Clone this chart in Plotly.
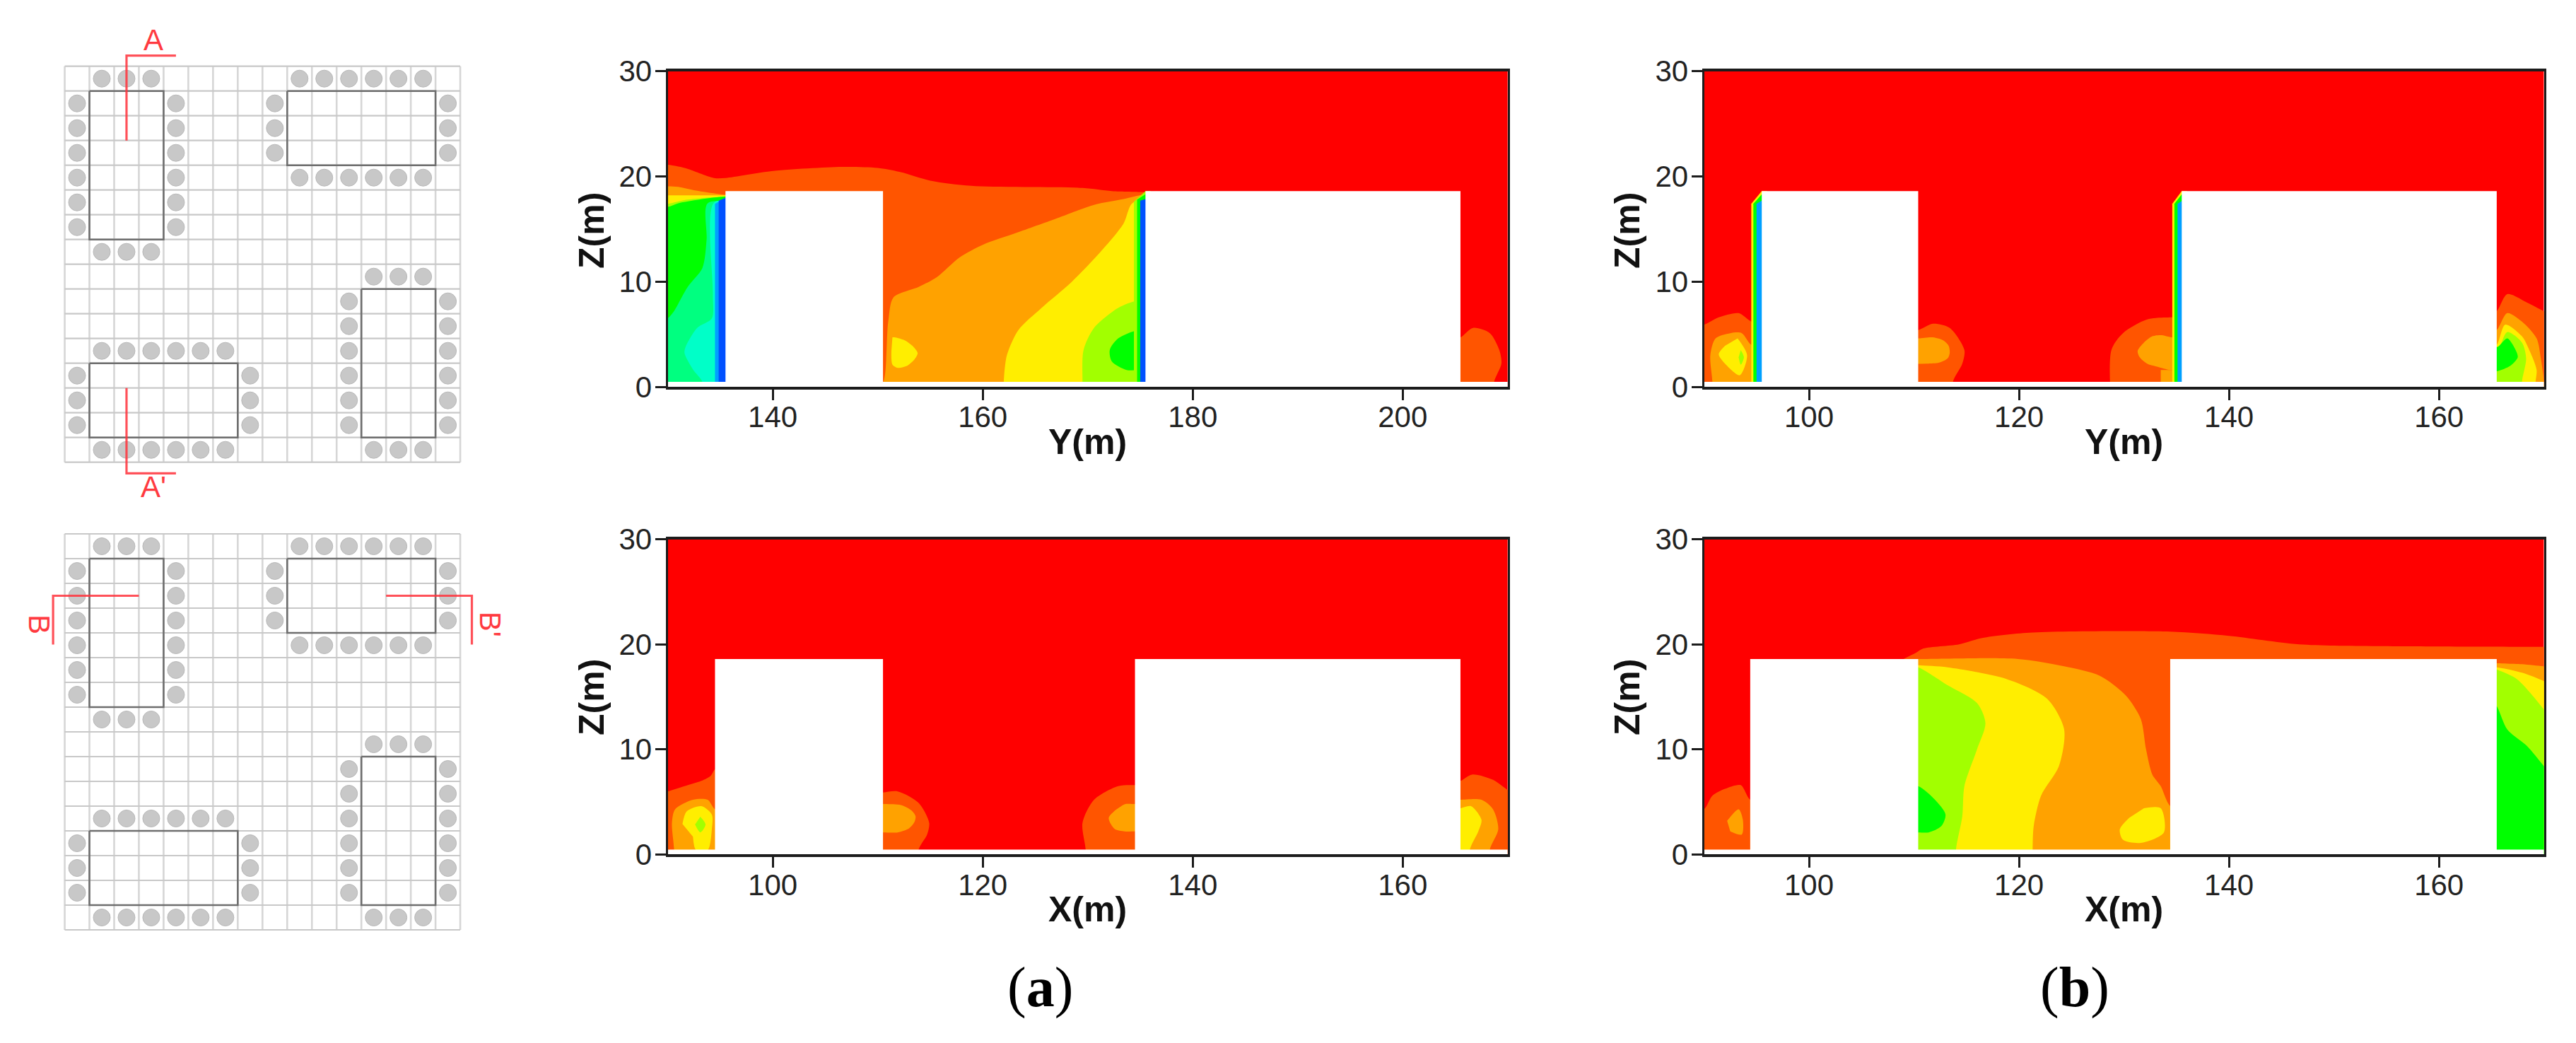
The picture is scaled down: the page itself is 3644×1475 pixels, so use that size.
#!/usr/bin/env python
import plotly.graph_objects as go

W, H = 3644, 1475

# colours of the contour levels
RED = "#ff0000"
ORED = "#ff5500"
ORANGE = "#ffa200"
YELLOW = "#ffee00"
YGREEN = "#a2ff00"
GREEN = "#00ff00"
SPRING = "#00ff80"
CYAN = "#00ffc8"
AZURE = "#00a0ff"
BLUE = "#0050ff"

# axis ticks
z_ticks = [0, 10, 20, 30]
ticks_130 = [140, 160, 180, 200]
ticks_90 = [100, 120, 140, 160]

# building footprints in each section (start, end), roof height, ground strip
top_a_buildings = [(135.5, 150.5), (175.5, 205.5)]
top_b_buildings = [(95.5, 110.4), (135.5, 165.5)]
bot_a_buildings = [(94.5, 110.5), (134.5, 165.5)]
bot_b_buildings = [(94.4, 110.4), (134.4, 165.5)]
roof_z = 18.6
ground_z = 0.47

# ---- section top left, contour outlines (Y, Z)
ta_ored_y = [128, 130, 131.6, 134.4, 135.5, 139.9, 146.6, 150, 152.2, 155, 158.9, 169.5, 172.3, 175.5, 177, 177, 128]
ta_ored_z = [21.1, 21.1, 20.8, 19.85, 19.85, 20.5, 20.9, 20.8, 20.4, 19.6, 19.1, 18.9, 18.6, 18.5, 18.4, -2, -2]
ta_l_orange_y = [128, 130, 131, 132.7, 135.5, 137, 137, 128]
ta_l_orange_z = [19.05, 19.05, 19, 18.65, 18.25, 18.2, 15, 15]
ta_l_yellow_y = [128, 130, 132.7, 135.5, 137, 137, 128]
ta_l_yellow_z = [18.3, 18.2, 18.2, 18.2, 18.2, 15, 15]
ta_l_ygreen_y = [128, 130, 131.6, 135.5, 137, 137, 128]
ta_l_ygreen_z = [17.3, 17.4, 17.75, 18.1, 18.15, 15, 15]
ta_l_green_y = [128, 130, 131, 133, 135.5, 137, 137, 128]
ta_l_green_z = [16.9, 17.1, 17.45, 17.8, 18.1, 18.15, -2, -2]
ta_l_spring_y = [137, 133.8, 133.7, 133.3, 131.9, 130.6, 130, 128, 128, 137]
ta_l_spring_z = [17.45, 17.45, 14, 11.3, 9.5, 7.2, 6.5, 5, -2, -2]
ta_l_cyan_y = [137, 134.4, 134.3, 134.2, 132.8, 131.7, 131.6, 132.4, 133.3, 133.3, 137]
ta_l_cyan_z = [17.5, 17.5, 8.8, 6.5, 5.6, 3.8, 3.2, 1.65, 0.45, -2, -2]
ta_l_azure_y = [134.5, 135.6, 135.6, 134.5]
ta_l_azure_z = [-1, -1, 18, 17.4]
ta_l_blue_y = [134.85, 135.6, 135.6, 134.85]
ta_l_blue_z = [-1, -1, 18, 17.7]
ta_m_orange_y = [177, 175.5, 173.4, 170.6, 167.3, 163.4, 160, 157.8, 155.6, 153.9, 151.5, 151, 150.5, 150, 150, 177]
ta_m_orange_z = [18.3, 18.3, 17.85, 17.3, 16.1, 14.7, 13.5, 12.3, 10.4, 9.5, 8.5, 6.2, 0.45, 0.45, -2, -2]
ta_m_yellow_y = [177, 174.3, 173.4, 171.2, 168.4, 165.6, 163.4, 162.3, 162, 162, 177]
ta_m_yellow_z = [17.5, 17.5, 15.5, 12.8, 9.9, 7.5, 5.4, 3, 0.45, -2, -2]
ta_m_blob_y = [151.4, 151.6, 152.6, 153.4, 153.8, 153.5, 152.8, 151.9, 151.4, 151.3]
ta_m_blob_z = [4.7, 4.7, 4.4, 3.8, 3.2, 2.6, 2, 1.8, 2.1, 3.4]
ta_m_ygreen_y = [177, 174.8, 172.9, 170.6, 169.6, 169.5, 169.5, 177]
ta_m_ygreen_z = [8.2, 8.2, 7.5, 5.6, 3.5, 0.45, -2, -2]
ta_m_green_y = [177, 174.8, 172.9, 172.1, 172.3, 173.7, 174.8, 177]
ta_m_green_z = [5.4, 5.4, 4.6, 3.5, 2.4, 1.6, 1.6, 1.6]
ta_w_ygreen_y = [174.4, 176, 176, 175.5, 174.4]
ta_w_ygreen_z = [-1, -1, 18.6, 18.6, 17.6]
ta_w_green_y = [174.7, 176, 176, 175.5, 174.7]
ta_w_green_z = [-1, -1, 18.3, 18.3, 17.8]
ta_w_blue_y = [175.0, 176, 176, 175.0]
ta_w_blue_z = [-1, -1, 18, 17.7]
ta_r_ored_y = [205, 205.5, 206.7, 208.3, 209.2, 209.4, 208.7, 208.7, 205]
ta_r_ored_z = [4.7, 4.7, 5.6, 5.1, 3.5, 2.2, 0.45, -2, -2]

# ---- section top right (Y, Z)
tb_l_ored_y = [88, 90, 91.4, 93.3, 94.5, 96, 96, 88]
tb_l_ored_z = [5.5, 5.9, 6.6, 7, 6.2, 6, -2, -2]
tb_l_orange_y = [90.8, 90.8, 90.6, 91.1, 92.5, 93.6, 94.5, 96, 96]
tb_l_orange_z = [-2, 0.45, 3, 4.6, 5.1, 5.1, 4, 3.8, -2]
tb_l_yellow_y = [93.2, 94.1, 93.4, 92, 91.4, 92]
tb_l_yellow_z = [4.6, 3, 1.1, 2.2, 3.1, 3.9]
tb_l_ygreen_y = [93.5, 93.8, 93.5, 93.3]
tb_l_ygreen_z = [3.5, 2.8, 2.1, 2.8]
tb_w1_orange_y = [94.5, 96, 96, 95.5, 94.5]
tb_w1_orange_z = [-1, -1, 18.6, 18.6, 17.4]
tb_w1_green_y = [94.7, 96, 96, 95.5, 94.7]
tb_w1_green_z = [-1, -1, 18.3, 18.3, 17.4]
tb_w1_azure_y = [95.0, 96, 96, 95.0]
tb_w1_azure_z = [-1, -1, 18, 17.4]
tb_m_ored_y = [109, 110.4, 111.8, 113.4, 114.8, 114.6, 113.7, 113.7, 109]
tb_m_ored_z = [5.4, 5.4, 6, 5.6, 3.5, 2.2, 0.45, -2, -2]
tb_m_orange_y = [109, 110.4, 111.8, 112.8, 113.3, 113.4, 113.2, 112.4, 111.2, 109]
tb_m_orange_z = [4.6, 4.6, 4.7, 4.4, 3.9, 3.2, 2.7, 2.3, 2.2, 2.2]
tb_r_ored_y = [128.8, 128.8, 129.9, 132.2, 134.5, 136, 136]
tb_r_ored_z = [-2, 3.5, 5.1, 6.4, 6.6, 6.6, -2]
tb_r_orange_y = [136, 134.5, 133.6, 132.7, 131.9, 131.3, 131.5, 132.2, 133.2, 134.4, 136]
tb_r_orange_z = [4.7, 4.7, 4.9, 4.8, 4.2, 3.4, 2.8, 2.2, 1.9, 1.6, 1.6]
tb_r_orange2_y = [133.5, 133.5, 136, 136]
tb_r_orange2_z = [-1, 1.6, 1.6, -1]
tb_w2_orange_y = [134.6, 136, 136, 135.5, 134.6]
tb_w2_orange_z = [-1, -1, 18.6, 18.6, 17.4]
tb_w2_green_y = [134.8, 136, 136, 135.5, 134.8]
tb_w2_green_z = [-1, -1, 18.3, 18.3, 17.4]
tb_w2_azure_y = [135.1, 136, 136, 135.1]
tb_w2_azure_z = [-1, -1, 18, 17.4]
tb_e_ored_y = [165, 165.5, 166.5, 168.4, 170, 172, 172, 165]
tb_e_ored_z = [7.2, 7.2, 8.8, 8, 7.2, 6.5, -2, -2]
tb_e_orange_y = [165, 165.5, 166.5, 167.9, 169.3, 169.7, 170, 170, 165]
tb_e_orange_z = [5.4, 5.4, 7, 6.2, 4.6, 2.7, 0.45, -2, -2]
tb_e_yellow_y = [165, 165.5, 166.3, 167.9, 168.6, 169.3, 169.2, 169.2, 165]
tb_e_yellow_z = [4, 4, 5.9, 4.8, 3.5, 1.6, 0.45, -2, -2]
tb_e_ygreen_y = [165, 165.5, 166.5, 167.9, 168.3, 167.9, 167.9, 165]
tb_e_ygreen_z = [3.2, 3.2, 5.2, 4.2, 2.7, 0.45, -2, -2]
tb_e_green_y = [165, 165.6, 166.5, 167.3, 167.5, 166.8, 165.6, 165]
tb_e_green_z = [3.8, 3.8, 4.6, 3.5, 2.8, 2, 1.5, 1.5]

# ---- section bottom left (X, Z)
ba_l_ored_y = [88, 90, 91.6, 93.2, 94.1, 94.5, 96, 96, 88]
ba_l_ored_z = [5.6, 6, 6.5, 7, 7.5, 8.1, 8.5, -2, -2]
ba_l_orange_y = [90.6, 90.6, 90.4, 90.7, 92.4, 93.8, 94.5, 96, 96]
ba_l_orange_z = [-2, 0.48, 3, 4.3, 5.2, 5.2, 4.3, 4, -2]
ba_l_yellow_y = [91.4, 91.8, 93.2, 94.2, 94.2, 93.8, 92.7, 92.4]
ba_l_yellow_z = [2.9, 4.1, 4.6, 3.8, 2.4, 0.4, 0.4, 1.7]
ba_l_ygreen_y = [93.1, 93.6, 93.1, 92.6]
ba_l_ygreen_z = [3.6, 2.85, 2.1, 2.85]
ba_m_ored_y = [109, 110.5, 111.9, 113.9, 114.9, 114.7, 113.9, 113.9, 109]
ba_m_ored_z = [5.9, 5.9, 6, 4.9, 3, 1.9, 0.48, -2, -2]
ba_m_orange_y = [109, 110.5, 112.2, 113.2, 113.6, 113.5, 113, 111.9, 110.5, 109]
ba_m_orange_z = [4.8, 4.8, 4.7, 4.2, 3.65, 3.1, 2.5, 2.1, 2.1, 2.1]
ba_r_ored_y = [129.8, 129.8, 129.5, 130.6, 132.9, 134.5, 136, 136]
ba_r_ored_z = [-2, 0.48, 3, 5.2, 6.5, 6.6, 6.6, -2]
ba_r_orange_y = [136, 134.5, 133.6, 133.2, 132.5, 132, 132.2, 132.6, 133.5, 134.5, 136]
ba_r_orange_z = [4.8, 4.8, 4.8, 4.6, 4.1, 3.5, 2.9, 2.4, 2.2, 2.2, 2.2]
ba_e_ored_y = [165, 165.5, 166.6, 168.6, 169.9, 172, 172, 165]
ba_e_ored_z = [7, 7, 7.6, 7.1, 6.2, 5, -2, -2]
ba_e_orange_y = [165, 165.5, 167.5, 168.6, 169.1, 168.3, 168.3, 165]
ba_e_orange_z = [5.2, 5.2, 5.2, 4.3, 2.4, 0.48, -2, -2]
ba_e_yellow_y = [165, 165.5, 166.5, 167.5, 167.2, 166.4, 166.4, 165]
ba_e_yellow_z = [4.4, 4.4, 4.6, 3.3, 2.2, 0.48, -2, -2]

# ---- section bottom right (X, Z)
bb_ored_y = [109, 110.2, 110.9, 114.3, 116.5, 121, 134.4, 140, 146.7, 157.8, 170, 172, 172, 109]
bb_ored_z = [18.6, 19.2, 19.6, 20, 20.6, 21.1, 21.2, 20.8, 20, 19.8, 19.75, 19.75, -2, -2]
bb_l_ored_y = [88, 90, 90.8, 92, 93.5, 94.4, 96, 96, 88]
bb_l_ored_z = [3.5, 4.3, 5.6, 6.25, 6.6, 5.2, 5, -2, -2]
bb_l_orange_y = [92.2, 93.3, 93.7, 93.6, 92.5]
bb_l_orange_z = [3.2, 4.3, 3.3, 1.9, 2.2]
bb_m_orange_y = [109, 110.4, 119.9, 124.3, 127.7, 130.2, 131.6, 132.1, 132.7, 133.5, 134.4, 136, 136, 109]
bb_m_orange_z = [18.6, 18.6, 18.6, 17.9, 17, 15.1, 12.9, 10, 7.6, 6.5, 4.6, 4, -2, -2]
bb_m_yellow_y = [109, 110.4, 113.2, 118.8, 122.7, 124.3, 123.8, 122.1, 121.4, 121.3, 121.3, 109]
bb_m_yellow_z = [18.1, 18, 17.8, 16.7, 14.8, 11.9, 8.4, 5.6, 2.7, 0.48, -2, -2]
bb_m_ygreen_y = [109, 110.4, 113.2, 116, 116.8, 116, 114.8, 114.6, 114, 114, 109]
bb_m_ygreen_z = [18, 17.8, 16.1, 14.4, 12.5, 10, 6.5, 3.65, 0.48, -2, -2]
bb_m_green_y = [109, 110.4, 112, 113, 112.6, 111.4, 110.4, 109]
bb_m_green_z = [6.5, 6.5, 5.2, 3.8, 2.7, 2.1, 2.1, 2.1]
bb_m_blob_y = [131.9, 133.5, 133.8, 131.6, 129.9, 129.6, 130.5]
bb_m_blob_z = [4.4, 4.4, 2.1, 1.1, 1.4, 2.4, 3.5]
bb_e_orange_y = [165, 165.5, 167.9, 170, 172, 172, 165]
bb_e_orange_z = [18.2, 18.2, 18.1, 17.9, 17.8, -2, -2]
bb_e_yellow_y = [165, 165.5, 167.9, 170, 172, 172, 165]
bb_e_yellow_z = [17.8, 17.8, 17.3, 16.5, 15.5, -2, -2]
bb_e_ygreen_y = [165, 165.5, 167.4, 170, 172, 172, 165]
bb_e_ygreen_z = [17.8, 17.6, 16.7, 13.8, 11, -2, -2]
bb_e_green_y = [165, 165.5, 166.5, 168.4, 170, 172, 172, 165]
bb_e_green_z = [14.5, 14.1, 11.9, 10.3, 8.4, 6, -2, -2]

top_a_bands = [
    (ORED, ta_ored_y, ta_ored_z), (ORED, ta_r_ored_y, ta_r_ored_z),
    (ORANGE, ta_l_orange_y, ta_l_orange_z), (YELLOW, ta_l_yellow_y, ta_l_yellow_z),
    (YGREEN, ta_l_ygreen_y, ta_l_ygreen_z), (GREEN, ta_l_green_y, ta_l_green_z),
    (SPRING, ta_l_spring_y, ta_l_spring_z), (CYAN, ta_l_cyan_y, ta_l_cyan_z),
    (ORANGE, ta_m_orange_y, ta_m_orange_z), (YELLOW, ta_m_blob_y, ta_m_blob_z),
    (YELLOW, ta_m_yellow_y, ta_m_yellow_z), (YGREEN, ta_m_ygreen_y, ta_m_ygreen_z),
    (GREEN, ta_m_green_y, ta_m_green_z),
]
top_a_walls = [
    (AZURE, ta_l_azure_y, ta_l_azure_z), (BLUE, ta_l_blue_y, ta_l_blue_z),
    (YGREEN, ta_w_ygreen_y, ta_w_ygreen_z), (GREEN, ta_w_green_y, ta_w_green_z),
    (BLUE, ta_w_blue_y, ta_w_blue_z),
]
top_b_bands = [
    (ORED, tb_l_ored_y, tb_l_ored_z), (ORANGE, tb_l_orange_y, tb_l_orange_z),
    (YELLOW, tb_l_yellow_y, tb_l_yellow_z), (YGREEN, tb_l_ygreen_y, tb_l_ygreen_z),
    (ORED, tb_m_ored_y, tb_m_ored_z), (ORANGE, tb_m_orange_y, tb_m_orange_z),
    (ORED, tb_r_ored_y, tb_r_ored_z), (ORANGE, tb_r_orange_y, tb_r_orange_z),
    (ORED, tb_e_ored_y, tb_e_ored_z), (ORANGE, tb_e_orange_y, tb_e_orange_z),
    (YELLOW, tb_e_yellow_y, tb_e_yellow_z), (YGREEN, tb_e_ygreen_y, tb_e_ygreen_z),
    (GREEN, tb_e_green_y, tb_e_green_z),
]
top_b_walls = [
    (ORANGE, tb_r_orange2_y, tb_r_orange2_z),
    (YELLOW, tb_w1_orange_y, tb_w1_orange_z), (GREEN, tb_w1_green_y, tb_w1_green_z),
    (AZURE, tb_w1_azure_y, tb_w1_azure_z),
    (YELLOW, tb_w2_orange_y, tb_w2_orange_z), (GREEN, tb_w2_green_y, tb_w2_green_z),
    (AZURE, tb_w2_azure_y, tb_w2_azure_z),
]
bot_a_bands = [
    (ORED, ba_l_ored_y, ba_l_ored_z), (ORANGE, ba_l_orange_y, ba_l_orange_z),
    (YELLOW, ba_l_yellow_y, ba_l_yellow_z), (YGREEN, ba_l_ygreen_y, ba_l_ygreen_z),
    (ORED, ba_m_ored_y, ba_m_ored_z), (ORANGE, ba_m_orange_y, ba_m_orange_z),
    (ORED, ba_r_ored_y, ba_r_ored_z), (ORANGE, ba_r_orange_y, ba_r_orange_z),
    (ORED, ba_e_ored_y, ba_e_ored_z), (ORANGE, ba_e_orange_y, ba_e_orange_z),
    (YELLOW, ba_e_yellow_y, ba_e_yellow_z),
]
bot_b_bands = [
    (ORED, bb_ored_y, bb_ored_z), (ORED, bb_l_ored_y, bb_l_ored_z),
    (ORANGE, bb_l_orange_y, bb_l_orange_z), (ORANGE, bb_m_orange_y, bb_m_orange_z),
    (YELLOW, bb_m_blob_y, bb_m_blob_z), (YELLOW, bb_m_yellow_y, bb_m_yellow_z),
    (YGREEN, bb_m_ygreen_y, bb_m_ygreen_z), (GREEN, bb_m_green_y, bb_m_green_z),
    (ORANGE, bb_e_orange_y, bb_e_orange_z), (YELLOW, bb_e_yellow_y, bb_e_yellow_z),
    (YGREEN, bb_e_ygreen_y, bb_e_ygreen_z), (GREEN, bb_e_green_y, bb_e_green_z),
]

# ---- plan views, in grid cells counted from the top left corner
grid_lines = list(range(17))
plan_rects_x = [(1, 4), (9, 15), (12, 15), (1, 7)]
plan_rects_y = [(1, 7), (1, 4), (9, 15), (12, 15)]
column_x = [1.5, 2.5, 3.5] * 2 + [0.5] * 6 + [4.5] * 6 \
    + [9.5, 10.5, 11.5, 12.5, 13.5, 14.5] * 2 + [8.5] * 3 + [15.5] * 3 \
    + [12.5, 13.5, 14.5] * 2 + [11.5] * 6 + [15.5] * 6 \
    + [1.5, 2.5, 3.5, 4.5, 5.5, 6.5] * 2 + [0.5] * 3 + [7.5] * 3
column_y = [0.5] * 3 + [7.5] * 3 + [1.5, 2.5, 3.5, 4.5, 5.5, 6.5] * 2 \
    + [0.5] * 6 + [4.5] * 6 + [1.5, 2.5, 3.5] * 2 \
    + [8.5] * 3 + [15.5] * 3 + [9.5, 10.5, 11.5, 12.5, 13.5, 14.5] * 2 \
    + [11.5] * 6 + [15.5] * 6 + [12.5, 13.5, 14.5] * 2
cut_a_x = [[4.5, 2.5, 2.5], [2.5, 2.5, 4.5]]
cut_a_y = [[-0.43, -0.43, 3], [13, 16.45, 16.45]]
cut_b_x = [[-0.47, -0.47, 3], [13, 16.47, 16.47]]
cut_b_y = [[4.47, 2.5, 2.5], [2.5, 2.5, 4.47]]

fig = go.Figure()


def px_x(a, b):
    return [a / W, b / W]


def px_y(top, bottom):
    return [1 - bottom / H, 1 - top / H]


def add_band(n, color, xs, zs, shape="spline"):
    fig.add_trace(go.Scatter(x=xs, y=zs, xaxis=f"x{n}", yaxis=f"y{n}", mode="lines", fill="toself",
                             fillcolor=color, line=dict(width=0, shape=shape, smoothing=0.8),
                             hoverinfo="skip", showlegend=False))


def add_section(n, x_range, bands, walls, buildings):
    add_band(n, RED, [x_range[0], x_range[1], x_range[1], x_range[0]], [0, 0, 30, 30], "linear")
    for color, xs, zs in bands:
        add_band(n, color, xs, zs)
    for color, xs, zs in walls:
        add_band(n, color, xs, zs, "linear")
    for a, b in buildings:
        add_band(n, "white", [a, b, b, a], [-1, -1, roof_z, roof_z], "linear")
    add_band(n, "white", [x_range[0], x_range[1], x_range[1], x_range[0]],
             [-1, -1, ground_z, ground_z], "linear")


def add_plan(n, cuts_x, cuts_y):
    ax = dict(xaxis=f"x{n}", yaxis=f"y{n}", hoverinfo="skip", showlegend=False)
    hx, hy, vx, vy = [], [], [], []
    for g in grid_lines:
        hx += [0, 16, None]
        hy += [g, g, None]
        vx += [g, g, None]
        vy += [0, 16, None]
    fig.add_trace(go.Scatter(x=vx, y=vy, mode="lines", line=dict(color="#d6d6d6", width=2.6), **ax))
    fig.add_trace(go.Scatter(x=hx, y=hy, mode="lines", line=dict(color="#c8c8c8", width=2.2), **ax))
    fig.add_trace(go.Scatter(x=column_x, y=column_y, mode="markers",
                             marker=dict(size=24, color="#c8c8c8", line=dict(color="#b8b8b8", width=1)), **ax))
    for (a, b), (c, d) in zip(plan_rects_x, plan_rects_y):
        fig.add_trace(go.Scatter(x=[a, b, b, a, a], y=[c, c, d, d, c], mode="lines",
                                 line=dict(color="#6e6e6e", width=2.6), **ax))
    for xs, ys in zip(cuts_x, cuts_y):
        fig.add_trace(go.Scatter(x=xs, y=ys, mode="lines",
                                 line=dict(color="rgba(255,50,60,0.85)", width=3.2), **ax))


add_plan(7, cut_a_x, cut_a_y)
add_plan(2, cut_b_x, cut_b_y)
add_section(3, (130, 210), top_a_bands, top_a_walls, top_a_buildings)
add_section(4, (90, 170), top_b_bands, top_b_walls, top_b_buildings)
add_section(5, (90, 170), bot_a_bands, [], bot_a_buildings)
add_section(6, (90, 170), bot_b_bands, [], bot_b_buildings)

AXIS_COLOR = "#1c1c1c"
TICK_FONT = dict(family="Liberation Sans", size=42, color="#222222")
TITLE_FONT = dict(family="Liberation Sans", size=50, color="#111111")


def section_axes(n, x_dom, y_dom, x_range, x_ticks):
    xa = dict(domain=x_dom, anchor=f"y{n}", range=list(x_range), tickmode="array", tickvals=x_ticks, ticks="outside",
              ticklen=15, tickwidth=3, tickcolor=AXIS_COLOR, showline=True, linewidth=4, linecolor=AXIS_COLOR,
              mirror=True, showgrid=False, zeroline=False, tickfont=TICK_FONT, automargin=False,
              ticklabelstandoff=-12)
    ya = dict(domain=y_dom, anchor=f"x{n}", range=[0, 30], tickmode="array", tickvals=z_ticks, ticks="outside",
              ticklen=15, tickwidth=3, tickcolor=AXIS_COLOR, showline=True, linewidth=3, linecolor=AXIS_COLOR,
              mirror=True, showgrid=False, zeroline=False, tickfont=TICK_FONT, automargin=False,
              ticklabelstandoff=-4)
    return xa, ya


def plan_axes(n, y_dom_top):
    # 16 cells at 35 px, with 2 spare cells round the grid for the section marks
    xa = dict(domain=px_x(91.6 - 70, 651 + 70), anchor=f"y{n}", range=[-2, 18], visible=False, fixedrange=True,
              automargin=False)
    ya = dict(domain=px_y(y_dom_top - 70, y_dom_top + 560 + 70), anchor=f"x{n}", range=[18, -2], visible=False,
              fixedrange=True, automargin=False)
    return xa, ya


layout = dict(width=W, height=H, autosize=False, margin=dict(l=0, r=0, t=0, b=0),
              paper_bgcolor="white", plot_bgcolor="white", showlegend=False)

layout["xaxis7"], layout["yaxis7"] = plan_axes(7, 93.7)
layout["xaxis2"], layout["yaxis2"] = plan_axes(2, 755)
layout["xaxis3"], layout["yaxis3"] = section_axes(3, px_x(944.6, 2132.8), px_y(100.7, 547), (130, 210), ticks_130)
layout["xaxis4"], layout["yaxis4"] = section_axes(4, px_x(2410.5, 3598.7), px_y(100.7, 547), (90, 170), ticks_90)
layout["xaxis5"], layout["yaxis5"] = section_axes(5, px_x(944.6, 2132.8), px_y(762.5, 1208.4), (90, 170), ticks_90)
layout["xaxis6"], layout["yaxis6"] = section_axes(6, px_x(2410.5, 3598.7), px_y(762.5, 1208.4), (90, 170), ticks_90)

RED_TEXT = dict(family="Liberation Sans", size=42, color="#ff3a40")
notes = [
    dict(text="A", x=3.6, y=-1.05, xref="x7", yref="y7", showarrow=False, font=RED_TEXT),
    dict(text="A'", x=3.6, y=17, xref="x7", yref="y7", showarrow=False, font=RED_TEXT),
    dict(text="B", x=-1.05, y=3.65, xref="x2", yref="y2", showarrow=False, font=RED_TEXT, textangle=90),
    dict(text="B'", x=17.2, y=3.65, xref="x2", yref="y2", showarrow=False, font=RED_TEXT, textangle=90),
]


def px_note(text, x, y, font, angle=0):
    return dict(text=text, x=x / W, y=1 - y / H, xref="paper", yref="paper", xanchor="center", yanchor="middle",
                showarrow=False, textangle=angle, font=font)


# axis titles
for zx in (837, 2302):
    for zy in (326, 986):
        notes.append(px_note("<b>Z(m)</b>", zx, zy, TITLE_FONT, -90))
notes.append(px_note("<b>Y(m)</b>", 1538, 625, TITLE_FONT))
notes.append(px_note("<b>Y(m)</b>", 3004, 625, TITLE_FONT))
notes.append(px_note("<b>X(m)</b>", 1538, 1286, TITLE_FONT))
notes.append(px_note("<b>X(m)</b>", 3004, 1286, TITLE_FONT))
CAPTION_FONT = dict(family="Liberation Serif", size=80, color="black")
notes.append(px_note("(<b>a</b>)", 1471, 1396, CAPTION_FONT))
notes.append(px_note("(<b>b</b>)", 2935, 1396, CAPTION_FONT))
layout["annotations"] = notes

fig.update_layout(**layout)
fig.write_html("out.html", config=dict(displayModeBar=False), post_script="document.body.style.margin='0';")
